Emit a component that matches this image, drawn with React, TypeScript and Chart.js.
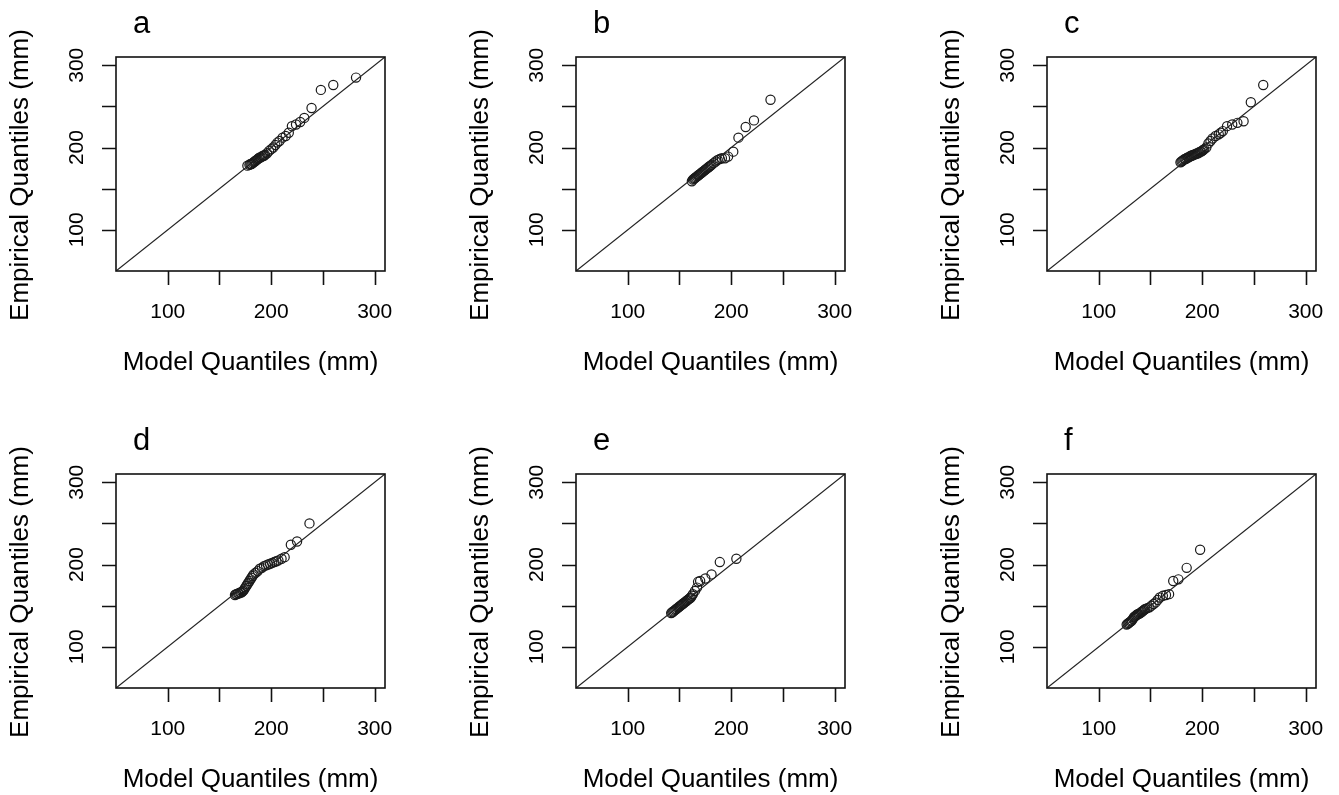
import React, { useEffect, useRef } from "react";
import { Chart, registerables } from "chart.js";

Chart.register(...registerables);

// ---- data ----
const axisMin = 50;
const axisMax = 310;
const tickValues = [100, 150, 200, 250, 300];
const labeledTicks = [100, 200, 300];
const panelLetters = ["a", "b", "c", "d", "e", "f"];
const xTitle = "Model Quantiles (mm)";
const yTitle = "Empirical Quantiles (mm)";

const aModel = [177, 179, 180, 181, 182, 183, 184, 185, 186, 187, 188, 189, 190, 191, 192, 193, 194, 196, 198, 200, 202, 204, 206, 208, 211, 214, 217, 220, 224, 228, 232, 239, 248, 260, 282];
const aEmpirical = [178, 179, 180, 180, 181, 182, 183, 184, 185, 186, 187, 188, 188, 189, 190, 190, 191, 193, 196, 198, 200, 203, 206, 208, 212, 214, 218, 226, 228, 231, 236, 248, 270, 276, 285];

const bModel = [162, 163, 164, 165, 166, 167, 168, 169, 170, 171, 172, 173, 174, 175, 176, 177, 178, 179, 180, 181, 183, 185, 187, 189, 191, 194, 197, 202, 207, 214, 222, 238];
const bEmpirical = [159, 161, 162, 163, 164, 165, 166, 167, 168, 169, 170, 171, 172, 173, 174, 175, 176, 177, 178, 179, 181, 183, 185, 186, 187, 187, 189, 195, 212, 225, 233, 258];

const cModel = [179, 180, 181, 182, 183, 184, 185, 186, 187, 188, 189, 190, 191, 192, 193, 194, 195, 196, 197, 198, 199, 200, 201, 202, 204, 206, 208, 210, 213, 216, 218, 220, 224, 229, 234, 240, 247, 259];
const cEmpirical = [182, 183, 184, 185, 186, 186, 187, 188, 188, 189, 190, 190, 191, 191, 192, 192, 193, 193, 194, 195, 195, 196, 197, 198, 200, 205, 208, 211, 214, 216, 218, 220, 226, 228, 230, 232, 255, 276];

const dModel = [165, 166, 167, 168, 169, 170, 171, 172, 173, 174, 175, 176, 177, 178, 179, 180, 181, 182, 183, 185, 187, 189, 191, 193, 195, 197, 199, 201, 203, 205, 207, 210, 213, 219, 225, 237];
const dEmpirical = [163, 164, 164, 165, 165, 166, 166, 167, 168, 170, 172, 174, 176, 178, 180, 182, 184, 186, 188, 190, 192, 195, 196, 198, 199, 200, 201, 202, 203, 204, 205, 207, 209, 224, 228, 250];

const eModel = [142, 143, 144, 145, 146, 147, 148, 149, 150, 151, 152, 153, 154, 155, 156, 157, 158, 159, 160, 161, 162, 163, 165, 167, 168, 170, 175, 181, 189, 205];
const eEmpirical = [141, 142, 143, 144, 145, 146, 147, 148, 149, 150, 151, 152, 153, 154, 155, 156, 157, 158, 159, 160, 162, 164, 168, 172, 179, 180, 183, 188, 203, 207];

const fModel = [127, 128, 129, 130, 131, 132, 133, 134, 135, 136, 137, 138, 139, 140, 141, 142, 143, 144, 145, 147, 149, 151, 153, 155, 157, 159, 162, 165, 168, 172, 177, 185, 198];
const fEmpirical = [127, 128, 129, 130, 131, 132, 134, 136, 137, 138, 139, 140, 140, 141, 142, 143, 144, 145, 146, 147, 148, 150, 152, 154, 157, 160, 162, 163, 164, 180, 182, 196, 218];

const panelModels = [aModel, bModel, cModel, dModel, eModel, fModel];
const panelEmpiricals = [aEmpirical, bEmpirical, cEmpirical, dEmpirical, eEmpirical, fEmpirical];

// ---- layout ----
const CANVAS_W = 408;
const CANVAS_H = 378;
const colLefts = [0, 460, 931];
const rowTops = [0, 417];
const FONT = '"Liberation Sans", Arial, Helvetica, sans-serif';

function makeDecor(letter: string) {
  return {
    id: "decor" + letter,
    afterDraw(chart: any) {
      const { ctx, chartArea: ca, scales } = chart;
      const xs = scales.x;
      const ys = scales.y;
      ctx.save();
      ctx.strokeStyle = "#111";
      ctx.lineWidth = 1.6;
      ctx.strokeRect(ca.left, ca.top, ca.right - ca.left, ca.bottom - ca.top);
      ctx.beginPath();
      for (const v of tickValues) {
        const px = Math.round(xs.getPixelForValue(v)) + 0.5;
        ctx.moveTo(px, ca.bottom);
        ctx.lineTo(px, ca.bottom + 14);
        const py = Math.round(ys.getPixelForValue(v)) + 0.5;
        ctx.moveTo(ca.left, py);
        ctx.lineTo(ca.left - 14, py);
      }
      ctx.stroke();

      ctx.fillStyle = "#000";
      ctx.textAlign = "center";
      ctx.textBaseline = "middle";
      ctx.font = "21px " + FONT;
      for (const v of labeledTicks) {
        ctx.fillText(String(v), xs.getPixelForValue(v), ca.bottom + 41);
        ctx.save();
        ctx.translate(ca.left - 39, ys.getPixelForValue(v));
        ctx.rotate(-Math.PI / 2);
        ctx.fillText(String(v), 0, 0);
        ctx.restore();
      }

      ctx.font = "26px " + FONT;
      ctx.fillText(xTitle, (ca.left + ca.right) / 2, ca.bottom + 92);
      ctx.save();
      ctx.translate(ca.left - 95, (ca.top + ca.bottom) / 2 + 11);
      ctx.rotate(-Math.PI / 2);
      ctx.fillText(yTitle, 0, 0);
      ctx.restore();

      ctx.font = "31px " + FONT;
      ctx.textAlign = "left";
      ctx.textBaseline = "alphabetic";
      ctx.fillText(letter, ca.left + 17, ca.top - 24);
      ctx.restore();
    },
  };
}

function Panel({ index }: { index: number }) {
  const ref = useRef<HTMLCanvasElement>(null);
  useEffect(() => {
    const model = panelModels[index];
    const emp = panelEmpiricals[index];
    const points = model.map((m, i) => ({ x: m, y: emp[i] }));
    const chart = new Chart(ref.current as HTMLCanvasElement, {
      type: "scatter",
      data: {
        datasets: [
          {
            data: [
              { x: axisMin, y: axisMin },
              { x: axisMax, y: axisMax },
            ],
            showLine: true,
            borderColor: "#222",
            borderWidth: 1.2,
            pointRadius: 0,
            fill: false,
          } as any,
          {
            data: points,
            pointRadius: 4.6,
            pointBorderWidth: 1.2,
            pointBorderColor: "#1a1a1a",
            pointBackgroundColor: "rgba(0,0,0,0)",
            borderColor: "#1a1a1a",
            backgroundColor: "rgba(0,0,0,0)",
            showLine: false,
          } as any,
        ],
      },
      options: {
        responsive: false,
        animation: false,
        devicePixelRatio: 1,
        layout: {
          padding: { left: 116, top: 57, right: CANVAS_W - 385, bottom: CANVAS_H - 271 },
        },
        plugins: {
          legend: { display: false },
          tooltip: { enabled: false },
          title: { display: false },
        },
        scales: {
          x: { type: "linear", min: axisMin, max: axisMax, display: false },
          y: { type: "linear", min: axisMin, max: axisMax, display: false },
        },
      },
      plugins: [makeDecor(panelLetters[index])],
    });
    return () => chart.destroy();
  }, [index]);
  const col = index % 3;
  const row = Math.floor(index / 3);
  return (
    <canvas
      ref={ref}
      width={CANVAS_W}
      height={CANVAS_H}
      style={{ position: "absolute", left: colLefts[col], top: rowTops[row], width: CANVAS_W, height: CANVAS_H }}
    />
  );
}

export default function App() {
  return (
    <div
      style={{
        position: "absolute",
        left: 0,
        top: 0,
        width: 1339,
        height: 795,
        overflow: "hidden",
        background: "#fff",
      }}
    >
      {panelLetters.map((_, i) => (
        <Panel key={i} index={i} />
      ))}
    </div>
  );
}
